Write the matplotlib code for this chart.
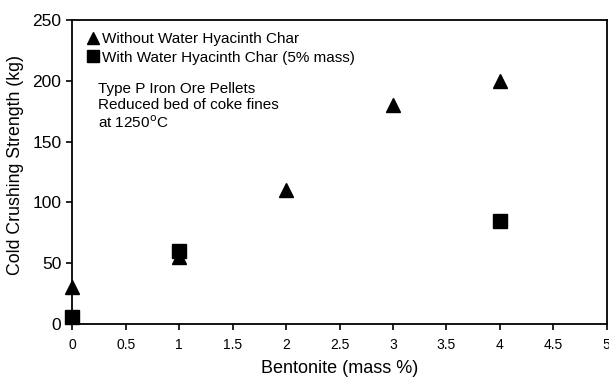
import matplotlib
matplotlib.use("Agg")
import matplotlib.pyplot as plt

plt.rcParams['font.family'] = ['Liberation Sans', 'DejaVu Sans']

x_without = [0, 1, 2, 3, 4]
y_without = [30, 55, 110, 180, 200]
x_with = [0, 1, 4]
y_with = [6, 60, 85]

xticks = [0, 0.5, 1, 1.5, 2, 2.5, 3, 3.5, 4, 4.5, 5]
xticklabels = ['0', '0.5', '1', '1.5', '2', '2.5', '3', '3.5', '4', '4.5', '5']
yticks = [0, 50, 100, 150, 200, 250]

fig = plt.figure(figsize=(6.09, 3.78), dpi=100)
ax = fig.add_axes([0.119, 0.143, 0.877, 0.804])

ax.plot(x_without, y_without, linestyle='none', marker='^', markersize=10,
        color='black', label='Without Water Hyacinth Char', clip_on=False, zorder=3)
ax.plot(x_with, y_with, linestyle='none', marker='s', markersize=9.5,
        color='black', label='With Water Hyacinth Char (5% mass)', clip_on=False, zorder=3)

ax.set_xlim(0, 5)
ax.set_ylim(0, 250)
ax.set_xticks(xticks)
ax.set_xticklabels(xticklabels)
ax.set_yticks(yticks)
ax.tick_params(axis='both', direction='out', length=4, width=1.2)
ax.tick_params(axis='x', labelsize=10, pad=6)
ax.tick_params(axis='y', labelsize=12.5, pad=4)
for s in ax.spines.values():
    s.set_linewidth(1.3)

ax.set_xlabel('Bentonite (mass %)', fontsize=13)
ax.set_ylabel('Cold Crushing Strength (kg)', fontsize=12.8)
ax.xaxis.set_label_coords(0.5, -0.12)
ax.yaxis.set_label_coords(-0.09, 0.523)

leg = ax.legend(loc='upper left', bbox_to_anchor=(0.007, 0.995), frameon=False,
                fontsize=11, handlelength=0.8, handletextpad=0.2,
                borderaxespad=0.3, labelspacing=0.3, markerscale=0.85)

ax.text(0.047, 0.795, 'Type P Iron Ore Pellets\nReduced bed of coke fines\nat 1250$^{\\mathrm{o}}$C',
        transform=ax.transAxes, fontsize=11, va='top', ha='left', linespacing=1.18)

fig.savefig('out.png', dpi=100)
